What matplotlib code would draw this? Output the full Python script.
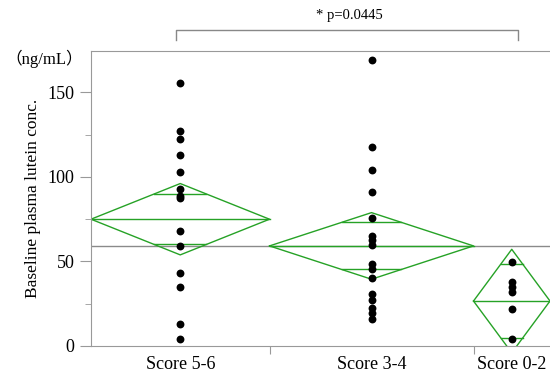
import numpy as np
import matplotlib
matplotlib.use('Agg')
from matplotlib import pyplot as plt

# data
groups = ['Score 5-6', 'Score 3-4', 'Score 0-2']
score56 = [155.6, 127, 122.7, 112.8, 103, 92.7, 88.8, 87.6, 67.9, 59.2, 43.2, 34.9, 12.8, 4.4]
score34 = [169, 118, 104, 91, 76, 65, 62.5, 60, 48.5, 45.5, 40, 30.5, 27, 22.5, 19.5, 16]
score02 = [49.7, 37.9, 34.9, 32, 21.7, 4]
means = [75.0, 59.2, 26.6]
ci_half = [21.1, 19.7, 30.6]   # half height of each means diamond
grand_mean = 59.3
p_text = '* p=0.0445'

serif = ['Liberation Serif', 'Noto Sans CJK JP']
plt.rcParams['font.family'] = serif

fig = plt.figure(figsize=(5.5, 3.74), dpi=100)
ax = fig.add_axes([91/550, 28/374, 459/550, 295/374])

data = [score56, score34, score02]
counts = [len(d) for d in data]
edges = np.concatenate([[0], np.cumsum(counts)])
centers = (edges[:-1] + edges[1:]) / 2
green = '#26a226'

ax.axhline(grand_mean, color='#8a8a8a', lw=1.0, zorder=1)

for i, vals in enumerate(data):
    left, right, c = edges[i], edges[i+1], centers[i]
    m, h = means[i], ci_half[i]
    half_w = (right - left) / 2
    # diamond
    ax.plot([left, c, right, c, left], [m, m + h, m, m - h, m], color=green, lw=1.0, zorder=2)
    ax.plot([left, right], [m, m], color=green, lw=1.0, zorder=2)
    # overlap marks
    d = h / np.sqrt(2)
    w = half_w * (1 - d / h)
    for yy in (m + d, m - d):
        ax.plot([c - w, c + w], [yy, yy], color=green, lw=1.0, zorder=2)
    ax.scatter([c] * len(vals), vals, s=32, color='black', zorder=3, linewidths=0)

ax.set_xlim(0, edges[-1])
ax.set_ylim(0, 174.5)
ax.set_yticks([0, 50, 100, 150])
ax.set_yticks([25, 75, 125], minor=True)
ax.set_xticks(edges[1:-1])
ax.set_xticklabels([])
ax.tick_params(axis='x', length=6, color='#999999')
ax.tick_params(axis='y', which='major', length=8, color='#999999', labelsize=13, pad=4)
ax.tick_params(axis='y', which='minor', length=4, color='#999999')
for sp in ['left', 'bottom', 'top']:
    ax.spines[sp].set_color('#999999')
ax.spines['right'].set_visible(False)

for c, g in zip(centers, groups):
    ax.text(c, -6, g, ha='center', va='top', fontsize=13, clip_on=False)

# significance bracket
bx = [6.7, 33.5]
ax.plot([bx[0], bx[0], bx[1], bx[1]], [181.3, 187.2, 187.2, 181.3],
        color='#888888', lw=1.0, clip_on=False)
ax.text(20.3, 195.7, p_text, ha='center', va='center', fontsize=10.5)

fig.text(44/550, 1 - 59/374, '（ng/mL）', ha='center', va='center', fontsize=12)
fig.text(33/550, 1 - 198/374, 'Baseline plasma lutein conc.', rotation=90,
         ha='center', va='center', fontsize=12.5)

fig.savefig('out.png', dpi=100)
